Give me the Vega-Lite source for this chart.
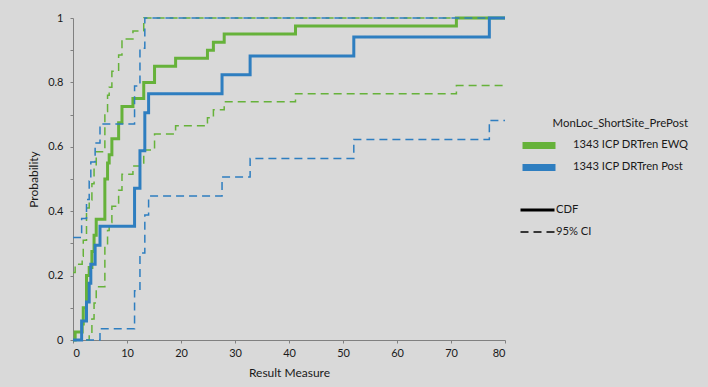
{
  "$schema": "https://vega.github.io/schema/vega-lite/v6.json",
  "width": 432,
  "height": 322,
  "autosize": {"type": "none"},
  "padding": {"left": 73, "top": 18, "right": 203, "bottom": 47},
  "background": "#d9d9d9",
  "config": {
    "view": {"stroke": null},
    "font": "Lato",
    "axis": {
      "grid": false,
      "domainColor": "#808080",
      "tickColor": "#808080",
      "labelColor": "#1a1a1a",
      "titleColor": "#1a1a1a",
      "labelFont": "Lato",
      "titleFont": "Lato",
      "labelFontSize": 11,
      "titleFontSize": 12,
      "titleFontWeight": "normal"
    },
    "legend": {"padding": 0, "labelFont": "Lato", "titleFont": "Lato"}
  },
  "data": {
    "values": [
      {"s": "1343 ICP DRTren EWQ", "t": "CDF", "b": "g0", "x": 0, "y": 0},
      {"s": "1343 ICP DRTren EWQ", "t": "CDF", "b": "g0", "x": 0.4, "y": 0.025},
      {"s": "1343 ICP DRTren EWQ", "t": "CDF", "b": "g0", "x": 1.7, "y": 0.05},
      {"s": "1343 ICP DRTren EWQ", "t": "CDF", "b": "g0", "x": 1.9, "y": 0.1},
      {"s": "1343 ICP DRTren EWQ", "t": "CDF", "b": "g0", "x": 2.5, "y": 0.2},
      {"s": "1343 ICP DRTren EWQ", "t": "CDF", "b": "g0", "x": 3.0, "y": 0.225},
      {"s": "1343 ICP DRTren EWQ", "t": "CDF", "b": "g0", "x": 3.5, "y": 0.275},
      {"s": "1343 ICP DRTren EWQ", "t": "CDF", "b": "g0", "x": 3.9, "y": 0.325},
      {"s": "1343 ICP DRTren EWQ", "t": "CDF", "b": "g0", "x": 4.3, "y": 0.375},
      {"s": "1343 ICP DRTren EWQ", "t": "CDF", "b": "g0", "x": 5.9, "y": 0.5},
      {"s": "1343 ICP DRTren EWQ", "t": "CDF", "b": "g0", "x": 6.4, "y": 0.55},
      {"s": "1343 ICP DRTren EWQ", "t": "CDF", "b": "g0", "x": 6.7, "y": 0.575},
      {"s": "1343 ICP DRTren EWQ", "t": "CDF", "b": "g0", "x": 7.2, "y": 0.625},
      {"s": "1343 ICP DRTren EWQ", "t": "CDF", "b": "g0", "x": 8.45, "y": 0.675},
      {"s": "1343 ICP DRTren EWQ", "t": "CDF", "b": "g0", "x": 9.07, "y": 0.725},
      {"s": "1343 ICP DRTren EWQ", "t": "CDF", "b": "g0", "x": 11.1, "y": 0.75},
      {"s": "1343 ICP DRTren EWQ", "t": "CDF", "b": "g0", "x": 13.1, "y": 0.8},
      {"s": "1343 ICP DRTren EWQ", "t": "CDF", "b": "g0", "x": 15.1, "y": 0.85},
      {"s": "1343 ICP DRTren EWQ", "t": "CDF", "b": "g0", "x": 19.0, "y": 0.875},
      {"s": "1343 ICP DRTren EWQ", "t": "CDF", "b": "g0", "x": 24.9, "y": 0.9},
      {"s": "1343 ICP DRTren EWQ", "t": "CDF", "b": "g0", "x": 26.0, "y": 0.925},
      {"s": "1343 ICP DRTren EWQ", "t": "CDF", "b": "g0", "x": 28.0, "y": 0.95},
      {"s": "1343 ICP DRTren EWQ", "t": "CDF", "b": "g0", "x": 41.2, "y": 0.975},
      {"s": "1343 ICP DRTren EWQ", "t": "CDF", "b": "g0", "x": 71.0, "y": 1},
      {"s": "1343 ICP DRTren EWQ", "t": "CDF", "b": "g0", "x": 80, "y": 1},

      {"s": "1343 ICP DRTren EWQ", "t": "95% CI", "b": "g1", "x": 0, "y": 0.21},
      {"s": "1343 ICP DRTren EWQ", "t": "95% CI", "b": "g1", "x": 0.4, "y": 0.235},
      {"s": "1343 ICP DRTren EWQ", "t": "95% CI", "b": "g1", "x": 1.7, "y": 0.26},
      {"s": "1343 ICP DRTren EWQ", "t": "95% CI", "b": "g1", "x": 1.9, "y": 0.31},
      {"s": "1343 ICP DRTren EWQ", "t": "95% CI", "b": "g1", "x": 2.5, "y": 0.41},
      {"s": "1343 ICP DRTren EWQ", "t": "95% CI", "b": "g1", "x": 3.0, "y": 0.435},
      {"s": "1343 ICP DRTren EWQ", "t": "95% CI", "b": "g1", "x": 3.5, "y": 0.485},
      {"s": "1343 ICP DRTren EWQ", "t": "95% CI", "b": "g1", "x": 3.9, "y": 0.535},
      {"s": "1343 ICP DRTren EWQ", "t": "95% CI", "b": "g1", "x": 4.3, "y": 0.585},
      {"s": "1343 ICP DRTren EWQ", "t": "95% CI", "b": "g1", "x": 5.9, "y": 0.71},
      {"s": "1343 ICP DRTren EWQ", "t": "95% CI", "b": "g1", "x": 6.4, "y": 0.76},
      {"s": "1343 ICP DRTren EWQ", "t": "95% CI", "b": "g1", "x": 6.7, "y": 0.785},
      {"s": "1343 ICP DRTren EWQ", "t": "95% CI", "b": "g1", "x": 7.2, "y": 0.835},
      {"s": "1343 ICP DRTren EWQ", "t": "95% CI", "b": "g1", "x": 8.45, "y": 0.885},
      {"s": "1343 ICP DRTren EWQ", "t": "95% CI", "b": "g1", "x": 9.07, "y": 0.935},
      {"s": "1343 ICP DRTren EWQ", "t": "95% CI", "b": "g1", "x": 11.1, "y": 0.96},
      {"s": "1343 ICP DRTren EWQ", "t": "95% CI", "b": "g1", "x": 13.1, "y": 1},
      {"s": "1343 ICP DRTren EWQ", "t": "95% CI", "b": "g1", "x": 80, "y": 1},

      {"s": "1343 ICP DRTren EWQ", "t": "95% CI", "b": "g2", "x": 0, "y": 0},
      {"s": "1343 ICP DRTren EWQ", "t": "95% CI", "b": "g2", "x": 3.0, "y": 0.015},
      {"s": "1343 ICP DRTren EWQ", "t": "95% CI", "b": "g2", "x": 3.5, "y": 0.065},
      {"s": "1343 ICP DRTren EWQ", "t": "95% CI", "b": "g2", "x": 3.9, "y": 0.115},
      {"s": "1343 ICP DRTren EWQ", "t": "95% CI", "b": "g2", "x": 4.3, "y": 0.165},
      {"s": "1343 ICP DRTren EWQ", "t": "95% CI", "b": "g2", "x": 5.9, "y": 0.29},
      {"s": "1343 ICP DRTren EWQ", "t": "95% CI", "b": "g2", "x": 6.4, "y": 0.34},
      {"s": "1343 ICP DRTren EWQ", "t": "95% CI", "b": "g2", "x": 6.7, "y": 0.365},
      {"s": "1343 ICP DRTren EWQ", "t": "95% CI", "b": "g2", "x": 7.2, "y": 0.415},
      {"s": "1343 ICP DRTren EWQ", "t": "95% CI", "b": "g2", "x": 8.45, "y": 0.465},
      {"s": "1343 ICP DRTren EWQ", "t": "95% CI", "b": "g2", "x": 9.07, "y": 0.515},
      {"s": "1343 ICP DRTren EWQ", "t": "95% CI", "b": "g2", "x": 11.1, "y": 0.54},
      {"s": "1343 ICP DRTren EWQ", "t": "95% CI", "b": "g2", "x": 13.1, "y": 0.59},
      {"s": "1343 ICP DRTren EWQ", "t": "95% CI", "b": "g2", "x": 15.1, "y": 0.64},
      {"s": "1343 ICP DRTren EWQ", "t": "95% CI", "b": "g2", "x": 19.0, "y": 0.665},
      {"s": "1343 ICP DRTren EWQ", "t": "95% CI", "b": "g2", "x": 24.9, "y": 0.69},
      {"s": "1343 ICP DRTren EWQ", "t": "95% CI", "b": "g2", "x": 26.0, "y": 0.715},
      {"s": "1343 ICP DRTren EWQ", "t": "95% CI", "b": "g2", "x": 28.0, "y": 0.74},
      {"s": "1343 ICP DRTren EWQ", "t": "95% CI", "b": "g2", "x": 41.2, "y": 0.765},
      {"s": "1343 ICP DRTren EWQ", "t": "95% CI", "b": "g2", "x": 71.0, "y": 0.79},
      {"s": "1343 ICP DRTren EWQ", "t": "95% CI", "b": "g2", "x": 80, "y": 0.79},

      {"s": "1343 ICP DRTren Post", "t": "CDF", "b": "b0", "x": 0, "y": 0},
      {"s": "1343 ICP DRTren Post", "t": "CDF", "b": "b0", "x": 1.6, "y": 0.059},
      {"s": "1343 ICP DRTren Post", "t": "CDF", "b": "b0", "x": 2.5, "y": 0.118},
      {"s": "1343 ICP DRTren Post", "t": "CDF", "b": "b0", "x": 3.0, "y": 0.176},
      {"s": "1343 ICP DRTren Post", "t": "CDF", "b": "b0", "x": 3.3, "y": 0.235},
      {"s": "1343 ICP DRTren Post", "t": "CDF", "b": "b0", "x": 4.1, "y": 0.294},
      {"s": "1343 ICP DRTren Post", "t": "CDF", "b": "b0", "x": 5.0, "y": 0.353},
      {"s": "1343 ICP DRTren Post", "t": "CDF", "b": "b0", "x": 11.4, "y": 0.471},
      {"s": "1343 ICP DRTren Post", "t": "CDF", "b": "b0", "x": 12.4, "y": 0.588},
      {"s": "1343 ICP DRTren Post", "t": "CDF", "b": "b0", "x": 13.3, "y": 0.706},
      {"s": "1343 ICP DRTren Post", "t": "CDF", "b": "b0", "x": 14.0, "y": 0.765},
      {"s": "1343 ICP DRTren Post", "t": "CDF", "b": "b0", "x": 27.6, "y": 0.824},
      {"s": "1343 ICP DRTren Post", "t": "CDF", "b": "b0", "x": 32.8, "y": 0.882},
      {"s": "1343 ICP DRTren Post", "t": "CDF", "b": "b0", "x": 52.0, "y": 0.941},
      {"s": "1343 ICP DRTren Post", "t": "CDF", "b": "b0", "x": 77.1, "y": 1},
      {"s": "1343 ICP DRTren Post", "t": "CDF", "b": "b0", "x": 80, "y": 1},

      {"s": "1343 ICP DRTren Post", "t": "95% CI", "b": "b1", "x": 0, "y": 0.318},
      {"s": "1343 ICP DRTren Post", "t": "95% CI", "b": "b1", "x": 1.6, "y": 0.377},
      {"s": "1343 ICP DRTren Post", "t": "95% CI", "b": "b1", "x": 2.5, "y": 0.436},
      {"s": "1343 ICP DRTren Post", "t": "95% CI", "b": "b1", "x": 3.0, "y": 0.494},
      {"s": "1343 ICP DRTren Post", "t": "95% CI", "b": "b1", "x": 3.3, "y": 0.553},
      {"s": "1343 ICP DRTren Post", "t": "95% CI", "b": "b1", "x": 4.1, "y": 0.612},
      {"s": "1343 ICP DRTren Post", "t": "95% CI", "b": "b1", "x": 5.0, "y": 0.671},
      {"s": "1343 ICP DRTren Post", "t": "95% CI", "b": "b1", "x": 11.4, "y": 0.789},
      {"s": "1343 ICP DRTren Post", "t": "95% CI", "b": "b1", "x": 12.4, "y": 0.906},
      {"s": "1343 ICP DRTren Post", "t": "95% CI", "b": "b1", "x": 13.3, "y": 1},
      {"s": "1343 ICP DRTren Post", "t": "95% CI", "b": "b1", "x": 80, "y": 1},

      {"s": "1343 ICP DRTren Post", "t": "95% CI", "b": "b2", "x": 0, "y": 0},
      {"s": "1343 ICP DRTren Post", "t": "95% CI", "b": "b2", "x": 5.0, "y": 0.035},
      {"s": "1343 ICP DRTren Post", "t": "95% CI", "b": "b2", "x": 11.4, "y": 0.153},
      {"s": "1343 ICP DRTren Post", "t": "95% CI", "b": "b2", "x": 12.4, "y": 0.27},
      {"s": "1343 ICP DRTren Post", "t": "95% CI", "b": "b2", "x": 13.3, "y": 0.388},
      {"s": "1343 ICP DRTren Post", "t": "95% CI", "b": "b2", "x": 14.0, "y": 0.447},
      {"s": "1343 ICP DRTren Post", "t": "95% CI", "b": "b2", "x": 27.6, "y": 0.506},
      {"s": "1343 ICP DRTren Post", "t": "95% CI", "b": "b2", "x": 32.8, "y": 0.564},
      {"s": "1343 ICP DRTren Post", "t": "95% CI", "b": "b2", "x": 52.0, "y": 0.623},
      {"s": "1343 ICP DRTren Post", "t": "95% CI", "b": "b2", "x": 77.1, "y": 0.682},
      {"s": "1343 ICP DRTren Post", "t": "95% CI", "b": "b2", "x": 80, "y": 0.682}
    ]
  },
  "mark": {"type": "line", "interpolate": "step-after"},
  "encoding": {
    "x": {
      "field": "x",
      "type": "quantitative",
      "scale": {"domain": [0, 80], "nice": false, "zero": false},
      "axis": {
        "title": "Result Measure",
        "values": [0, 10, 20, 30, 40, 50, 60, 70, 80],
        "tickSize": 3,
        "labelPadding": 4,
        "titlePadding": 9
      }
    },
    "y": {
      "field": "y",
      "type": "quantitative",
      "scale": {"domain": [0, 1], "nice": false},
      "axis": {
        "title": "Probability",
        "values": [0, 0.1, 0.2, 0.3, 0.4, 0.5, 0.6, 0.7, 0.8, 0.9, 1],
        "labelExpr": "round(datum.value * 10) % 2 == 0 ? format(datum.value, '~g') : ''",
        "tickSize": 3,
        "labelPadding": 7,
        "titlePadding": 7
      }
    },
    "color": {
      "field": "s",
      "type": "nominal",
      "scale": {
        "domain": ["1343 ICP DRTren EWQ", "1343 ICP DRTren Post"],
        "range": ["#66b23a", "#2e7ec0"]
      },
      "legend": {
        "orient": "none",
        "legendX": 446,
        "legendY": 100,
        "title": "MonLoc_ShortSite_PrePost",
        "titleAnchor": "end",
        "titleFontSize": 11.4,
        "titleFontWeight": "normal",
        "titleColor": "#1a1a1a",
        "titlePadding": 8,
        "labelFontSize": 11.2,
        "labelColor": "#1a1a1a",
        "labelOffset": 14,
        "symbolType": "M-1,0H1",
        "symbolSize": 1089,
        "symbolStrokeWidth": 7,
        "symbolDash": [1, 0],
        "clipHeight": 16,
        "rowPadding": 6
      }
    },
    "strokeDash": {
      "field": "t",
      "type": "nominal",
      "scale": {"domain": ["CDF", "95% CI"], "range": [[1, 0], [8, 5]]},
      "legend": {
        "orient": "none",
        "legendX": 446,
        "legendY": 184,
        "title": null,
        "labelFontSize": 11.2,
        "labelColor": "#1a1a1a",
        "labelOffset": 0,
        "symbolType": "M-1,0H1",
        "symbolSize": 1156,
        "symbolStrokeWidth": 2,
        "symbolStrokeColor": "black",
        "clipHeight": 16,
        "rowPadding": 6
      }
    },
    "strokeWidth": {
      "field": "t",
      "type": "ordinal",
      "scale": {"domain": ["CDF", "95% CI"], "range": [3, 1.5]},
      "legend": null
    },
    "detail": {"field": "b", "type": "nominal"}
  }
}
